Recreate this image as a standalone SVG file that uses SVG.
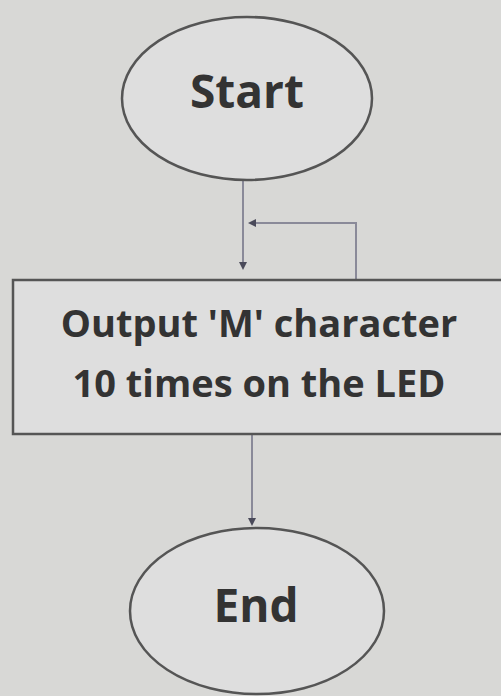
<svg xmlns="http://www.w3.org/2000/svg" width="501" height="696" viewBox="0 0 501 696">
<defs>
<marker id="ah" viewBox="0 0 10 10" refX="5" refY="5" markerWidth="4" markerHeight="4" orient="auto">
<path d="M0,0 L10,5 L0,10 z" fill="#4a4a5a"/>
</marker>
<style>
.shape{fill:#dedede;stroke:#555;stroke-width:2.5}
.lbl{font-family:"Open Sans","Liberation Sans",sans-serif;font-weight:bold;fill:#333;text-anchor:middle}
.conn{fill:none;stroke:#8a8a99;stroke-width:2}
</style>
</defs>
<rect width="501" height="696" fill="#d8d8d6"/>
<g id="connectors">
<path class="conn" d="M243,180 L243,266" marker-end="url(#ah)"/>
<path class="conn" d="M356,280 L356,223 L252,223" marker-end="url(#ah)"/>
<path class="conn" d="M252,435 L252,522" marker-end="url(#ah)"/>
</g>
<g id="start">
<ellipse class="shape" cx="247" cy="98.5" rx="125" ry="81.5"/>
<text class="lbl" x="247" y="108" font-size="46">Start</text>
</g>
<g id="output">
<rect class="shape" x="13" y="280" width="490" height="154"/>
<text class="lbl" x="259" y="337" font-size="38">Output 'M' character</text>
<text class="lbl" x="259" y="397" font-size="38">10 times on the LED</text>
</g>
<g id="end">
<ellipse class="shape" cx="257" cy="611" rx="127" ry="83"/>
<text class="lbl" x="256" y="622" font-size="46">End</text>
</g>
</svg>
